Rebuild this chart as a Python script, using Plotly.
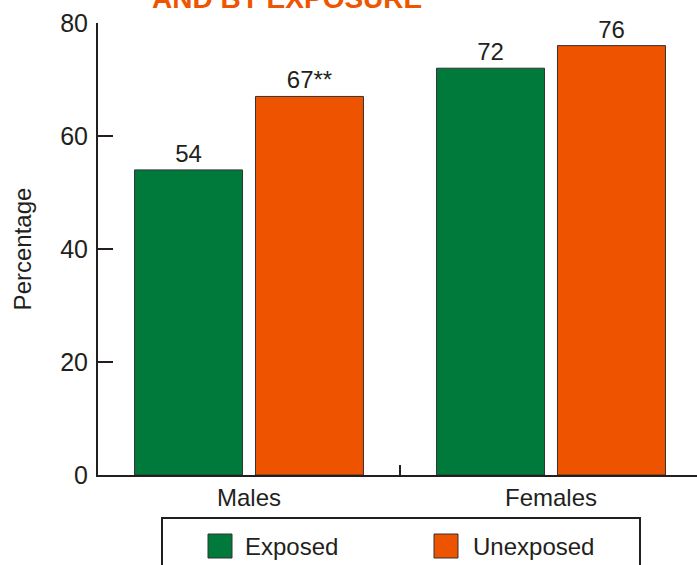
import plotly.graph_objects as go

categories = ["Males", "Females"]
exposed = [54, 72]
unexposed = [67, 76]
exposed_labels = ["54", "72"]
unexposed_labels = ["67**", "76"]
y_ticks = [0, 20, 40, 60, 80]

GREEN = "#007A3B"
ORANGE = "#EE5300"
INK = "#231F20"
FONT = "Liberation Sans"

W, H = 697, 565
L, T, B = 98, 23, 90
PW = W - L
PH = H - T - B


def px(x):
    return (x - L) / PW


def py(y):
    return (H - B - y) / PH


fig = go.Figure()
fig.add_trace(go.Bar(
    name="Exposed", x=categories, y=exposed, text=exposed_labels,
    textposition="outside", cliponaxis=False,
    marker=dict(color=GREEN, line=dict(color="#333333", width=1)),
    textfont=dict(size=24, color=INK, family=FONT),
    showlegend=False,
))
fig.add_trace(go.Bar(
    name="Unexposed", x=categories, y=unexposed, text=unexposed_labels,
    textposition="outside", cliponaxis=False,
    marker=dict(color=ORANGE, line=dict(color="#333333", width=1)),
    textfont=dict(size=24, color=INK, family=FONT),
    showlegend=False,
))

shapes = [
    # legend frame
    dict(type="rect", xref="paper", yref="paper",
         x0=px(162), x1=px(640), y0=py(580), y1=py(518),
         line=dict(color=INK, width=2), fillcolor="rgba(0,0,0,0)"),
    dict(type="rect", xref="paper", yref="paper",
         x0=px(208), x1=px(232), y0=py(558), y1=py(534),
         line=dict(color="#333333", width=1), fillcolor=GREEN),
    dict(type="rect", xref="paper", yref="paper",
         x0=px(434), x1=px(458), y0=py(558), y1=py(534),
         line=dict(color="#333333", width=1), fillcolor=ORANGE),
]

annotations = [
    dict(text="Exposed", xref="paper", yref="paper", x=px(243), y=py(546),
         xanchor="left", yanchor="middle", showarrow=False,
         font=dict(size=24, color=INK, family=FONT)),
    dict(text="Unexposed", xref="paper", yref="paper", x=px(471), y=py(546),
         xanchor="left", yanchor="middle", showarrow=False,
         font=dict(size=24, color=INK, family=FONT)),
    dict(text="<b>AND BY EXPOSURE</b>", xref="paper", yref="paper",
         x=px(150), y=py(16), xanchor="left", yanchor="bottom", showarrow=False,
         font=dict(size=28, color="#EE5500", family=FONT)),
]

fig.update_layout(
    width=W, height=H,
    margin=dict(l=L, r=0, t=T, b=B, pad=0),
    paper_bgcolor="white", plot_bgcolor="white",
    barmode="group", bargap=0.199, bargroupgap=0.107,
    font=dict(family=FONT, size=24, color=INK),
    shapes=shapes, annotations=annotations,
    showlegend=False,
)
fig.update_xaxes(
    range=[-0.5, -0.5 + PW / 302.0],
    showline=True, linecolor=INK, linewidth=2,
    ticks="inside", ticklen=10, tickwidth=2, tickcolor=INK,
    tickson="boundaries", showgrid=False, zeroline=False,
    tickfont=dict(size=24, color=INK, family=FONT),
)
fig.update_yaxes(
    range=[0, 80], tickvals=y_ticks,
    showline=True, linecolor=INK, linewidth=2,
    ticks="inside", ticklen=15, tickwidth=2, tickcolor=INK,
    ticklabelstandoff=3,
    showgrid=False, zeroline=False,
    tickfont=dict(size=25, color=INK, family=FONT),
    title=dict(text="Percentage", font=dict(size=24, color=INK, family=FONT), standoff=22),
)

fig.write_html("out.html")
